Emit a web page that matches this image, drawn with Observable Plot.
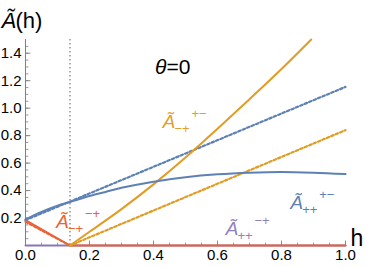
<!DOCTYPE html>
<html>
<head>
<meta charset="utf-8">
<script src="https://cdn.jsdelivr.net/npm/d3@7"></script>
<script src="https://cdn.jsdelivr.net/npm/@observablehq/plot@0.6"></script>
<style>
  html, body { margin: 0; padding: 0; background: #fff; }
  #chart { width: 374px; height: 267px; }
  svg { display: block; }
</style>
</head>
<body>
<div id="chart"></div>
<script>
// ---- data ----
const hCrit = 0.139;

// Ã++^{+-} (solid blue)
const hBlueSolid = [0, 0.05, 0.1, 0.15, 0.2, 0.25, 0.3, 0.4, 0.5, 0.6, 0.7, 0.8, 0.9, 1.0];
const vBlueSolid = [0.19, 0.245, 0.29, 0.325, 0.36, 0.39, 0.42, 0.465, 0.497, 0.518, 0.53, 0.535, 0.53, 0.52];

// dotted blue
const hBlueDot = [0, 1.0];
const vBlueDot = [0.185, 1.155];

// Ã-+^{+-} (solid orange)
const hOrangeSolid = [0.139, 0.2, 0.3, 0.4, 0.5, 0.6, 0.7, 0.8, 0.893];
const vOrangeSolid = [0, 0.1, 0.265, 0.445, 0.64, 0.85, 1.065, 1.285, 1.5];

// dotted orange
const hOrangeDot = [0.139, 1.0];
const vOrangeDot = [0, 0.84];

// Ã-+^{-+} (solid red)
const hRedSolid = [0, 0.139, 1.0];
const vRedSolid = [0.185, 0, 0];

// dotted red
const hRedDot = [0, 0.139];
const vRedDot = [0.172, 0];

// Ã++^{-+} (purple)
const hPurple = [0, 1.0];
const vPurple = [0, 0];

const xTicks = [0, 0.2, 0.4, 0.6, 0.8, 1.0];
const yTicks = [0.2, 0.4, 0.6, 0.8, 1.0, 1.2, 1.4];
const xMinor = d3.range(0, 1.0001, 0.05);
const yMinor = d3.range(0.05, 1.5, 0.05);

const labels = [
  {x: 0.428, y: 0.858, sub: "−+", sup: "+−", color: "#E39F2B"},
  {x: 0.095, y: 0.124, sub: "−+", sup: "−+", color: "#EB6235"},
  {x: 0.827, y: 0.269, sub: "++", sup: "+−", color: "#5E81B5"},
  {x: 0.625, y: 0.073, sub: "++", sup: "−+", color: "#8F82BE"}
];

const blue = "#5E81B5", orange = "#E19C24", red = "#EB6235", purple = "#8778B3";
const axisColor = "#808080";
const font = "Liberation Sans, Arial, Helvetica, sans-serif";
const dots = "2.6,2.2";

const pts = (hs, vs) => hs.map((h, i) => ({h, v: vs[i]}));
const tickShape = {draw(ctx, l) { ctx.moveTo(0, 0); ctx.lineTo(0, -l); }};

const chart = Plot.plot({
  width: 374,
  height: 267,
  marginTop: 39,
  marginBottom: 22,
  marginLeft: 25,
  marginRight: 29,
  style: {fontFamily: font, background: "#fff"},
  x: {domain: [0, 1], ticks: xTicks, tickFormat: d3.format(".1f")},
  y: {domain: [0, 1.5], ticks: yTicks, tickFormat: d3.format(".1f")},
  marks: [
    Plot.axisX({ticks: xTicks, tickSize: 0, tickPadding: 4, fontSize: 15, tickFormat: d3.format(".1f"), label: null, color: "#000"}),
    Plot.axisY({ticks: yTicks, tickSize: 0, tickPadding: 4, fontSize: 15, tickFormat: d3.format(".1f"), label: null, color: "#000"}),
    Plot.ruleX([hCrit], {stroke: "#999", strokeWidth: 1.6, strokeDasharray: "1.4,2.6"}),
    Plot.ruleY([0], {stroke: axisColor, strokeWidth: 1}),
    Plot.ruleX([0], {stroke: axisColor, strokeWidth: 1}),
    Plot.vector(xMinor, {x: d => d, y: 0, length: 2.5, rotate: 0, anchor: "start", stroke: axisColor, strokeWidth: 0.8, shape: tickShape}),
    Plot.vector(xTicks, {x: d => d, y: 0, length: 4.5, rotate: 0, anchor: "start", stroke: axisColor, strokeWidth: 0.9, shape: tickShape}),
    Plot.vector(yMinor, {x: 0, y: d => d, length: 2.5, rotate: 90, anchor: "start", stroke: axisColor, strokeWidth: 0.8, shape: tickShape}),
    Plot.vector(yTicks, {x: 0, y: d => d, length: 4.5, rotate: 90, anchor: "start", stroke: axisColor, strokeWidth: 0.9, shape: tickShape}),
    Plot.line(pts(hPurple, vPurple), {x: "h", y: "v", stroke: purple, strokeWidth: 2}),
    Plot.line(pts(hRedDot, vRedDot), {x: "h", y: "v", stroke: red, strokeWidth: 2.2, strokeDasharray: dots}),
    Plot.line(pts(hRedSolid, vRedSolid), {x: "h", y: "v", stroke: red, strokeWidth: 2}),
    Plot.line(pts(hOrangeDot, vOrangeDot), {x: "h", y: "v", stroke: orange, strokeWidth: 2.2, strokeDasharray: dots}),
    Plot.line(pts(hBlueDot, vBlueDot), {x: "h", y: "v", stroke: blue, strokeWidth: 2.2, strokeDasharray: dots}),
    Plot.line(pts(hOrangeSolid, vOrangeSolid), {x: "h", y: "v", stroke: orange, strokeWidth: 2, curve: "catmull-rom"}),
    Plot.line(pts(hBlueSolid, vBlueSolid), {x: "h", y: "v", stroke: blue, strokeWidth: 2, curve: "catmull-rom"}),
    Plot.text(labels, {x: "x", y: "y", text: () => "Ã", fill: "color", fontSize: 19, fontStyle: "italic", textAnchor: "start", lineAnchor: "bottom", fontFamily: font}),
    Plot.text(labels, {x: "x", y: "y", text: "sub", fill: "color", fontSize: 13, textAnchor: "start", lineAnchor: "bottom", dx: 12, dy: 5, fontFamily: font}),
    Plot.text(labels, {x: "x", y: "y", text: "sup", fill: "color", fontSize: 13, textAnchor: "start", lineAnchor: "bottom", dx: 29, dy: -10, fontFamily: font}),
    Plot.text(["θ"], {x: 0.453, y: 1.30, text: d => d, fontSize: 21, fontStyle: "italic", fill: "#000", textAnchor: "end", dx: -4, fontFamily: font}),
    Plot.text(["=0"], {x: 0.453, y: 1.30, text: d => d, fontSize: 21, fill: "#000", textAnchor: "start", dx: -4, fontFamily: font}),
    Plot.text(["h"], {x: 1, y: 0, text: d => d, fontSize: 23, fill: "#000", textAnchor: "start", dx: 5, dy: -7, fontFamily: font}),
    Plot.text(["(h)"], {frameAnchor: "top-left", text: d => d, fontSize: 22, fill: "#000", textAnchor: "start", dx: -10, dy: -27, fontFamily: font}),
    Plot.text(["Ã"], {frameAnchor: "top-left", text: d => d, fontSize: 22, fontStyle: "italic", fill: "#000", textAnchor: "start", dx: -24, dy: -27, fontFamily: font})
  ]
});
document.getElementById("chart").appendChild(chart);
</script>
</body>
</html>
